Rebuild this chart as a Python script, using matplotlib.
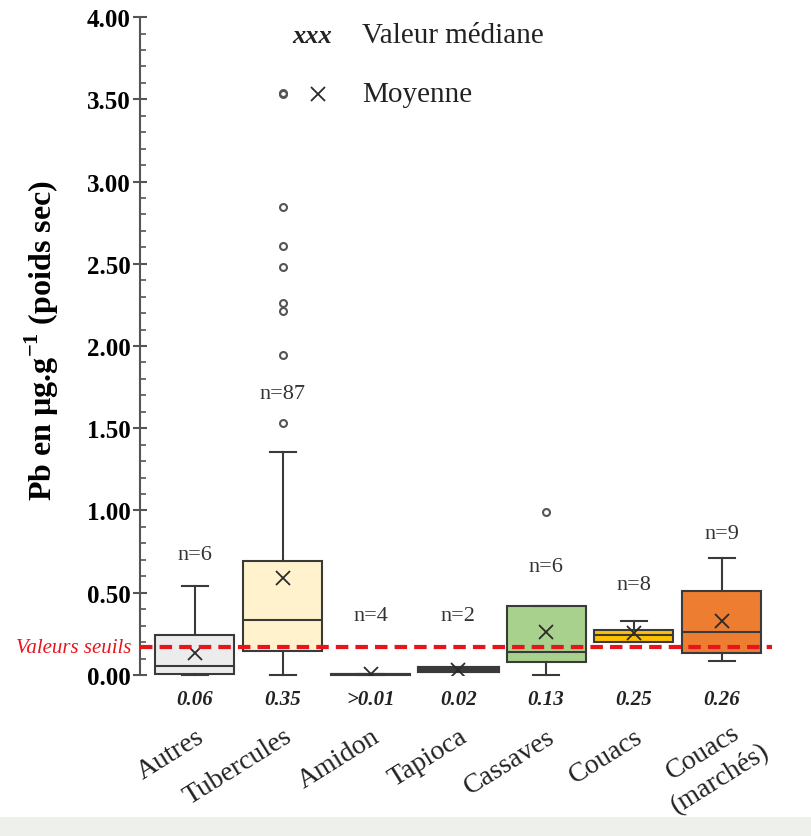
import matplotlib
matplotlib.use('Agg')
import matplotlib.pyplot as plt
from matplotlib.patches import Rectangle
from matplotlib.transforms import ScaledTranslation

plt.rcParams['font.family'] = ['Liberation Serif', 'DejaVu Serif']
plt.rcParams['mathtext.fontset'] = 'custom'
plt.rcParams['mathtext.rm'] = 'Liberation Serif'
plt.rcParams['mathtext.bf'] = 'Liberation Serif:bold'

# Data (Pb, µg/g dry weight)
categories = ['Autres', 'Tubercules', 'Amidon', 'Tapioca', 'Cassaves', 'Couacs', 'Couacs\n(marchés)']
whis_lo = [0.0, 0.0, 0.0, 0.025, 0.0, 0.20, 0.085]
q1 = [0.005, 0.145, 0.0, 0.025, 0.077, 0.20, 0.134]
medians = [0.057, 0.334, 0.003, 0.032, 0.138, 0.24, 0.26]
q3 = [0.245, 0.695, 0.006, 0.04, 0.418, 0.275, 0.509]
whis_hi = [0.54, 1.355, 0.006, 0.04, 0.418, 0.326, 0.71]
means = [0.134, 0.59, 0.005, 0.032, 0.26, 0.255, 0.326]
outliers = [[], [1.532, 1.945, 2.211, 2.261, 2.478, 2.608, 2.843, 3.54], [], [], [0.99], [], []]
n_obs = [6, 87, 4, 2, 6, 8, 9]
median_labels = ['0.06', '0.35', '>0.01', '0.02', '0.13', '0.25', '0.26']
threshold = 0.168

colors = ['#ececec', '#fff2cc', '#ffffff', '#404040', '#a9d18e', '#ffc000', '#ed7d31']
edge = '#3a3a3a'

fig = plt.figure(figsize=(8.11, 8.37), dpi=100)
ax = fig.add_axes([0.1726, 0.1924, 0.779, 0.786])

stats = []
for i in range(len(categories)):
    stats.append(dict(whislo=whis_lo[i], q1=q1[i], med=medians[i], q3=q3[i],
                      whishi=whis_hi[i], mean=means[i], fliers=outliers[i]))

pos = list(range(1, len(categories) + 1))
bp = ax.bxp(stats, positions=pos, widths=0.9, patch_artist=True, showmeans=True,
            boxprops=dict(edgecolor=edge, linewidth=1.5),
            medianprops=dict(color=edge, linewidth=1.5),
            whiskerprops=dict(color=edge, linewidth=1.5),
            capprops=dict(color=edge, linewidth=1.5),
            capwidths=0.3,
            meanprops=dict(marker='x', markeredgecolor='#2a2a2a', markersize=10, markeredgewidth=1.3),
            flierprops=dict(marker='o', markerfacecolor='none', markeredgecolor='#555555',
                            markersize=5, markeredgewidth=1.5))
for patch, c in zip(bp['boxes'], colors):
    patch.set_facecolor(c)
bp['boxes'][3].set_linewidth(3)
for art in bp['caps'] + bp['whiskers'] + bp['boxes']:
    art.set_clip_on(False)

# threshold line
ax.axhline(threshold, color='#e8141c', linestyle=(0, (3, 1.7)), linewidth=3, zorder=5, clip_on=False)
ax.text(0.28, threshold, 'Valeurs seuils', color='#e8141c', fontstyle='italic', fontsize=15,
        ha='right', va='center')

# n labels
n_y = [0.735, 1.71, 0.36, 0.36, 0.66, 0.55, 0.86]
for x, n, y in zip(pos, n_obs, n_y):
    ax.text(x, y, f'n={n}', ha='center', va='center', fontsize=16, color='#333333')

# median values under the axis
for x, lab in zip(pos, median_labels):
    ax.text(x, -0.145, lab, ha='center', va='center', fontsize=15, fontweight='bold',
            fontstyle='italic', color='#222222', clip_on=False)

# legend text
ax.text(2.34, 3.89, 'xxx', ha='center', va='center', fontsize=19, fontweight='bold',
        fontstyle='italic', color='#222222')
ax.text(2.9, 3.89, 'Valeur médiane', ha='left', va='center', fontsize=21, color='#222222')
ax.plot([2.0], [3.53], marker='o', markerfacecolor='none', markeredgecolor='#555555',
        markersize=5, markeredgewidth=1.5)
ax.plot([2.4], [3.53], marker='x', markeredgecolor='#2a2a2a', markersize=10, markeredgewidth=1.3)
ax.text(2.9, 3.53, 'Moyenne', ha='left', va='center', fontsize=21, color='#222222')

ax.set_xlim(0.374, 7.57)
ax.set_ylim(0, 4)
ax.set_yticks([0, 0.5, 1, 1.5, 2, 2.5, 3, 3.5, 4])
ax.set_yticklabels([f'{v:.2f}' for v in [0, 0.5, 1, 1.5, 2, 2.5, 3, 3.5, 4]],
                   fontsize=18, fontweight='bold')
ax.set_yticks([i / 10 for i in range(41)], minor=True)
ax.tick_params(axis='y', which='major', direction='inout', length=10, width=1.5, color='#555555', pad=2)
ax.tick_params(axis='y', which='minor', direction='in', length=4, width=1.2, color='#555555')

ax.set_xticks(pos)
ax.set_xticklabels(categories, rotation=32, ha='right', rotation_mode='anchor',
                   fontsize=20, multialignment='center', color='#222222', linespacing=1.35)
ax.tick_params(axis='x', length=0, pad=35)
last = ax.get_xticklabels()[-1]
last.set_transform(last.get_transform() + ScaledTranslation(0.22, 0.12, fig.dpi_scale_trans))

for s in ['top', 'right', 'bottom']:
    ax.spines[s].set_visible(False)
ax.spines['left'].set_color('#555555')
ax.spines['left'].set_linewidth(1.5)

ax.set_ylabel('Pb en µg.g$^{\\mathbf{-1}}$ (poids sec)', fontsize=23, fontweight='bold')
ax.yaxis.set_label_coords(-0.125, 0.51)

fig.patches.append(Rectangle((0, 0), 1, 19 / 837, transform=fig.transFigure,
                             facecolor='#eef0ec', edgecolor='none'))

fig.savefig('out.png', dpi=100)
